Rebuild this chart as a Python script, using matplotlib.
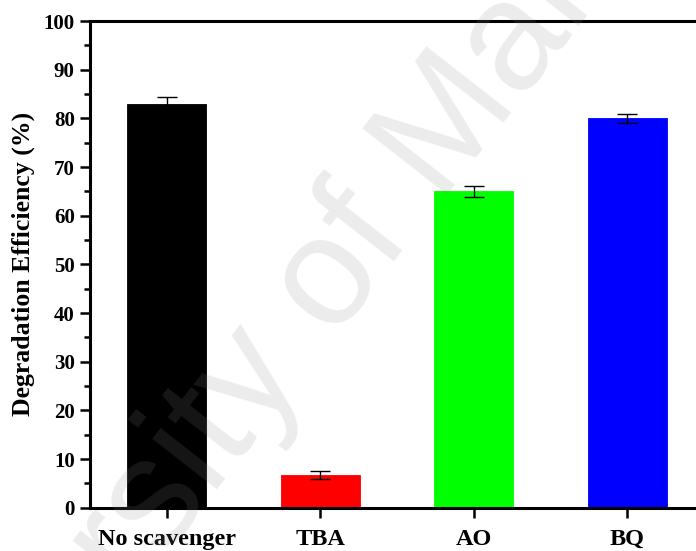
import matplotlib.pyplot as plt
from matplotlib.ticker import MultipleLocator

# scavenger test data
scavengers = ["No scavenger", "TBA", "AO", "BQ"]
efficiency = [83.0, 6.7, 65.0, 80.0]
errors = [1.3, 0.9, 1.2, 1.0]
colors = ["#000000", "#ff0000", "#00ff00", "#0000ff"]

plt.rcParams['font.family'] = ['Liberation Serif', 'DejaVu Serif']
plt.rcParams['font.weight'] = 'bold'

fig = plt.figure(figsize=(6.96, 5.51), dpi=100)
# the original picture is cut off on the right, so the axes run past the edge
ax = fig.add_axes([0.1293, 0.0786, 0.882, 0.8832])

x = range(len(scavengers))
ax.bar(x, efficiency, width=0.515, color=colors, edgecolor=colors, linewidth=0.6,
       yerr=errors, capsize=7, error_kw=dict(ecolor='black', elinewidth=1.0, capthick=1.0))

ax.set_xlim(-0.5, 3.5)
ax.set_ylim(0, 100)
ax.yaxis.set_major_locator(MultipleLocator(10))
ax.yaxis.set_minor_locator(MultipleLocator(5))
ax.set_xticks(list(x))
ax.set_xticklabels(scavengers, fontsize=17.5, fontweight='bold')
ax.tick_params(axis='x', which='major', length=7, width=1.8, pad=8)
ax.tick_params(axis='y', which='major', length=7, width=1.8, labelsize=15, pad=4)
ax.tick_params(axis='y', which='minor', length=4.5, width=1.8)
for lab in ax.get_yticklabels():
    lab.set_fontweight('bold')

for s in ax.spines.values():
    s.set_linewidth(2.2)

ax.set_ylabel('Degradation Efficiency (%)', fontsize=18.5, fontweight='bold', labelpad=6)

# faint thesis watermark
fig.text(0.41, 0.39, 'University of Malaya', family='Liberation Sans', fontsize=112,
         fontweight='normal', color='#888888', alpha=0.16, rotation=52,
         ha='center', va='center', rotation_mode='anchor', zorder=10)

fig.savefig('out.png', dpi=100)
